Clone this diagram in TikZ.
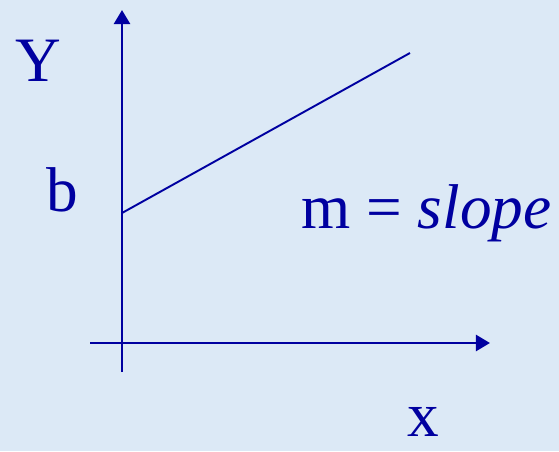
\documentclass[tikz,border=0pt]{standalone}
\usepackage{fontspec}
\setmainfont{Liberation Serif}
\usepackage{tikz}
\usetikzlibrary{calc,positioning,arrows.meta}
\definecolor{navy}{RGB}{0,0,160}
\definecolor{paper}{RGB}{220,233,246}
\tikzset{axis/.style={navy, line width=1.7pt, -{Triangle[length=8pt,width=9pt]}},
         lbl/.style={navy, anchor=base, font=\fontsize{36}{42}\selectfont, inner sep=0pt}}

\begin{document}
\begin{tikzpicture}[x=0.02cm, y=0.02cm]

\fill[paper] (0,0) rectangle (559,451);
\useasboundingbox (0,0) rectangle (559,451);
% axes
\coordinate (ybot) at (122,79);
\coordinate (ytop) at (122,441);
\coordinate (xleft) at (90,108);
\coordinate (xright) at (490,108);
\draw[axis] (ybot) -- (ytop);
\draw[axis] (xleft) -- (xright);
% the line
\coordinate (b0) at (122,238);
\coordinate (b1) at (410,398);
\draw[navy, line width=1.1pt] (b0) -- (b1);
% labels
\node[lbl] (ylab) at (38,370) {Y};
\node[lbl] (blab) at (62,240) {b};
\node[lbl, anchor=base west] (mlab) at (301,223) {m = \textit{slope}};
\node[lbl] (xlab) at (423,15) {x};
\end{tikzpicture}
\end{document}
